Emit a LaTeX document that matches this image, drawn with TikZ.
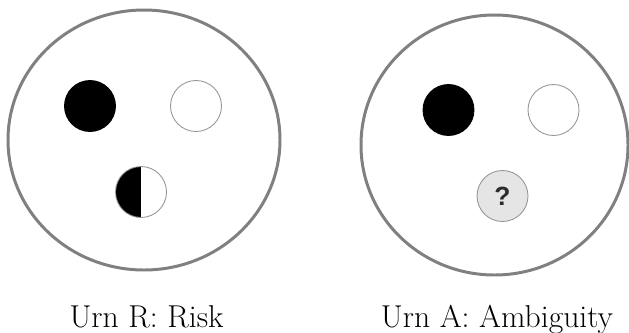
\documentclass[tikz,border=0pt]{standalone}
\usepackage{fontspec}
\newfontfamily\qfont{Liberation Sans}

\definecolor{urnedge}{RGB}{128, 128, 128}
\definecolor{balledge}{RGB}{150, 150, 150}
\definecolor{qfill}{RGB}{229, 229, 229}
\definecolor{qtext}{RGB}{45, 45, 45}

\begin{document}
\begin{tikzpicture}[x=0.02cm, y=-0.02cm,
    ball/.style={circle, minimum size=1.02cm, inner sep=0pt, draw=balledge, line width=0.5pt},
    blackball/.style={ball, fill=black, draw=black},
    halfball/.style={ball, path picture={\fill[black] (path picture bounding box.south west) rectangle (path picture bounding box.north);}},
    qball/.style={ball, fill=qfill, text=qtext, font=\qfont\bfseries\fontsize{15}{15}\selectfont},
    urnlabel/.style={anchor=base, font=\fontsize{18}{22}\selectfont}]
        \useasboundingbox (0,0) rectangle (629,332);

        % Urns
        \draw[urnedge, line width=1.7pt] (144,140) ellipse [x radius=136, y radius=130];
        \draw[urnedge, line width=1.7pt] (494.5,145) ellipse [x radius=133.5, y radius=130];

        % Urn R balls
        \node[blackball] (rblack) at (90,106) {};
        \node[ball] (rwhite) at (196,106) {};
        \node[halfball] (rhalf) at (141,192) {};

        % Urn A balls
        \node[blackball] (ablack) at (448.5,110) {};
        \node[ball] (awhite) at (553.5,110) {};
        \node[qball] (aunknown) at (502.5,196) {?};

        % Labels
        \node[urnlabel] (rlabel) at (146.5,327) {Urn R: Risk};
        \node[urnlabel] (alabel) at (497,327) {Urn A: Ambiguity};
\end{tikzpicture}
\end{document}
